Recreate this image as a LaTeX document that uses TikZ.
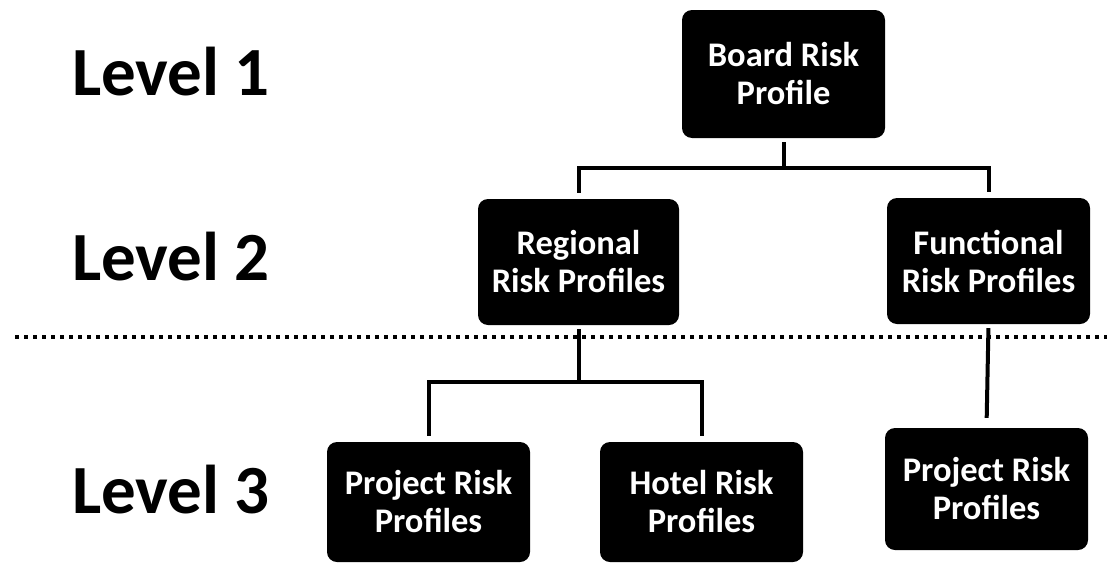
\documentclass[tikz,border=0pt]{standalone}
\usepackage{fontspec}
\setmainfont{Carlito}
\begin{document}
\begin{tikzpicture}[x=1pt,y=-1pt,
  box/.style={draw=none,fill=black,text=white,rounded corners=10pt,align=center,
    font=\bfseries\fontsize{34.5}{38}\selectfont,inner sep=0pt},
  conn/.style={line width=4pt,shorten <=5pt,shorten >=6pt},
  lvl/.style={anchor=base west,font=\bfseries\fontsize{69}{80}\selectfont,inner sep=0pt},
  sep/.style={line width=3.5pt,dash pattern=on 3.5pt off 5.5pt}]
\useasboundingbox (0,0) rectangle (1107,562);
\node[lvl] (l1) at (72,95) {Level 1};
\node[lvl] (l2) at (72,280) {Level 2};
\node[lvl] (l3) at (72,513) {Level 3};

\node[box,minimum width=203pt,minimum height=128pt] (board) at (783.5,74) {Board Risk\\Profile};
\node[box,minimum width=201pt,minimum height=126pt] (reg) at (578.5,262) {Regional\\Risk Profiles};
\node[box,minimum width=203pt,minimum height=126pt] (func) at (988.5,261) {Functional\\Risk Profiles};
\node[box,minimum width=203pt,minimum height=120pt] (proj) at (428.5,502) {Project Risk\\Profiles};
\node[box,minimum width=203pt,minimum height=120pt] (hotel) at (701.5,502) {Hotel Risk\\Profiles};
\node[box,minimum width=203pt,minimum height=122pt] (proj2) at (986.5,489) {Project Risk\\Profiles};

\coordinate (d1) at (15,337);
\coordinate (d2) at (1107,337);
\draw[sep] (d1) -- (d2);

\coordinate (j1) at (783.5,168);
\coordinate (j2) at (578.5,382);
\draw[line width=4pt,shorten <=4pt] (board.south) -- (j1);
\draw[conn,shorten <=6pt] (reg.north) |- (j1) -| (func.north);
\draw[line width=4pt,shorten <=4pt] (reg.south) -- (j2);
\draw[conn,shorten <=6pt] (proj.north) |- (j2) -| (hotel.north);
\draw[conn,shorten <=4pt,shorten >=10pt] (func.south) -- (proj2.north);
\end{tikzpicture}
\end{document}
